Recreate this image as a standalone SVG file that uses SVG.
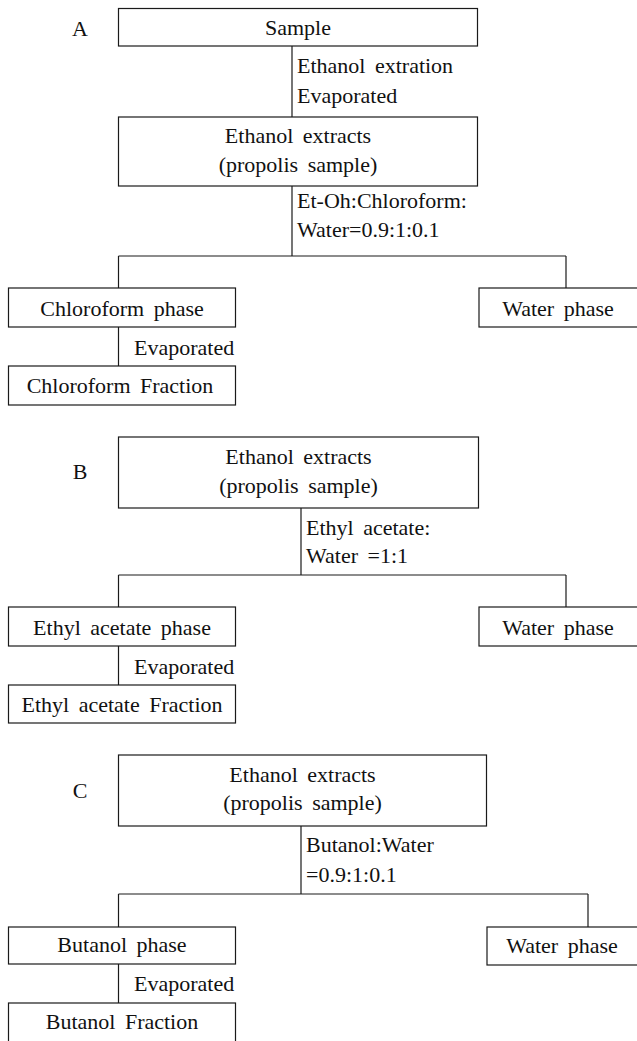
<svg xmlns="http://www.w3.org/2000/svg" width="637" height="1041" viewBox="0 0 637 1041" font-family="'Liberation Serif', 'DejaVu Serif', serif">
<style>
  rect.box { fill: #ffffff; stroke: #1a1a1a; stroke-width: 1.2; }
  .conn line { stroke: #1a1a1a; stroke-width: 1.2; }
  text { font-family: 'Liberation Serif', 'DejaVu Serif', serif; font-size: 22px; fill: #111; word-spacing: 4px; }
  text.c { text-anchor: middle; }
</style>
<rect width="637" height="1041" fill="#ffffff"/>

<!-- Panel labels -->
<text id="label-A" class="c" x="80" y="36">A</text>
<text id="label-B" class="c" x="80" y="479">B</text>
<text id="label-C" class="c" x="80" y="798">C</text>

<!-- Connectors -->
<g id="connectors" class="conn">
  <!-- A -->
  <line x1="292" y1="46" x2="292" y2="117"/>
  <line x1="292" y1="186" x2="292" y2="256"/>
  <line x1="118.5" y1="256" x2="566" y2="256"/>
  <line x1="118.5" y1="256" x2="118.5" y2="288"/>
  <line x1="566" y1="256" x2="566" y2="288"/>
  <line x1="118.5" y1="327" x2="118.5" y2="366"/>
  <!-- B -->
  <line x1="301" y1="508" x2="301" y2="575"/>
  <line x1="118.5" y1="575" x2="566" y2="575"/>
  <line x1="118.5" y1="575" x2="118.5" y2="607"/>
  <line x1="566" y1="575" x2="566" y2="607"/>
  <line x1="118.5" y1="646" x2="118.5" y2="685"/>
  <!-- C -->
  <line x1="301" y1="826" x2="301" y2="894"/>
  <line x1="118.5" y1="894" x2="588" y2="894"/>
  <line x1="118.5" y1="894" x2="118.5" y2="927"/>
  <line x1="588" y1="894" x2="588" y2="927"/>
  <line x1="118.5" y1="964" x2="118.5" y2="1003"/>
</g>

<!-- Connector labels -->
<g id="connector-labels">
  <text x="297" y="73">Ethanol extration</text>
  <text x="297" y="103">Evaporated</text>
  <text x="297" y="208">Et-Oh:Chloroform:</text>
  <text x="297" y="237">Water=0.9:1:0.1</text>
  <text x="134" y="355">Evaporated</text>

  <text x="306" y="535">Ethyl acetate:</text>
  <text x="306" y="563">Water =1:1</text>
  <text x="134" y="674">Evaporated</text>

  <text x="306" y="852">Butanol:Water</text>
  <text x="306" y="882">=0.9:1:0.1</text>
  <text x="134" y="991">Evaporated</text>
</g>

<!-- Panel A nodes -->
<g id="a-sample">
  <rect class="box" x="118.5" y="8.5" width="359" height="37.5"/>
  <text class="c" x="298" y="35">Sample</text>
</g>
<g id="a-extract">
  <rect class="box" x="118.5" y="117" width="359" height="69"/>
  <text class="c" x="298" y="143">Ethanol extracts</text>
  <text class="c" x="298" y="172">(propolis sample)</text>
</g>
<g id="a-chloroform-phase">
  <rect class="box" x="8.5" y="288" width="227" height="39"/>
  <text class="c" x="122" y="316">Chloroform phase</text>
</g>
<g id="a-water-phase">
  <rect class="box" x="479" y="288" width="170" height="39"/>
  <text class="c" x="558" y="316">Water phase</text>
</g>
<g id="a-chloroform-fraction">
  <rect class="box" x="8.5" y="366" width="227" height="39"/>
  <text class="c" x="120" y="393">Chloroform Fraction</text>
</g>

<!-- Panel B nodes -->
<g id="b-extract">
  <rect class="box" x="118.5" y="437" width="360" height="71"/>
  <text class="c" x="298.5" y="464">Ethanol extracts</text>
  <text class="c" x="298.5" y="493">(propolis sample)</text>
</g>
<g id="b-ethyl-acetate-phase">
  <rect class="box" x="8.5" y="607" width="227" height="39"/>
  <text class="c" x="122" y="635">Ethyl acetate phase</text>
</g>
<g id="b-water-phase">
  <rect class="box" x="479" y="607" width="170" height="39"/>
  <text class="c" x="558" y="635">Water phase</text>
</g>
<g id="b-ethyl-acetate-fraction">
  <rect class="box" x="8.5" y="685" width="227" height="38"/>
  <text class="c" x="122" y="712">Ethyl acetate Fraction</text>
</g>

<!-- Panel C nodes -->
<g id="c-extract">
  <rect class="box" x="118.5" y="755" width="368" height="71"/>
  <text class="c" x="302.5" y="782">Ethanol extracts</text>
  <text class="c" x="302.5" y="810">(propolis sample)</text>
</g>
<g id="c-butanol-phase">
  <rect class="box" x="8.5" y="927" width="227" height="37"/>
  <text class="c" x="122" y="952">Butanol phase</text>
</g>
<g id="c-water-phase">
  <rect class="box" x="487" y="927" width="170" height="38"/>
  <text class="c" x="562" y="953">Water phase</text>
</g>
<g id="c-butanol-fraction">
  <rect class="box" x="8.5" y="1003" width="227" height="50"/>
  <text class="c" x="122" y="1029">Butanol Fraction</text>
</g>
</svg>
